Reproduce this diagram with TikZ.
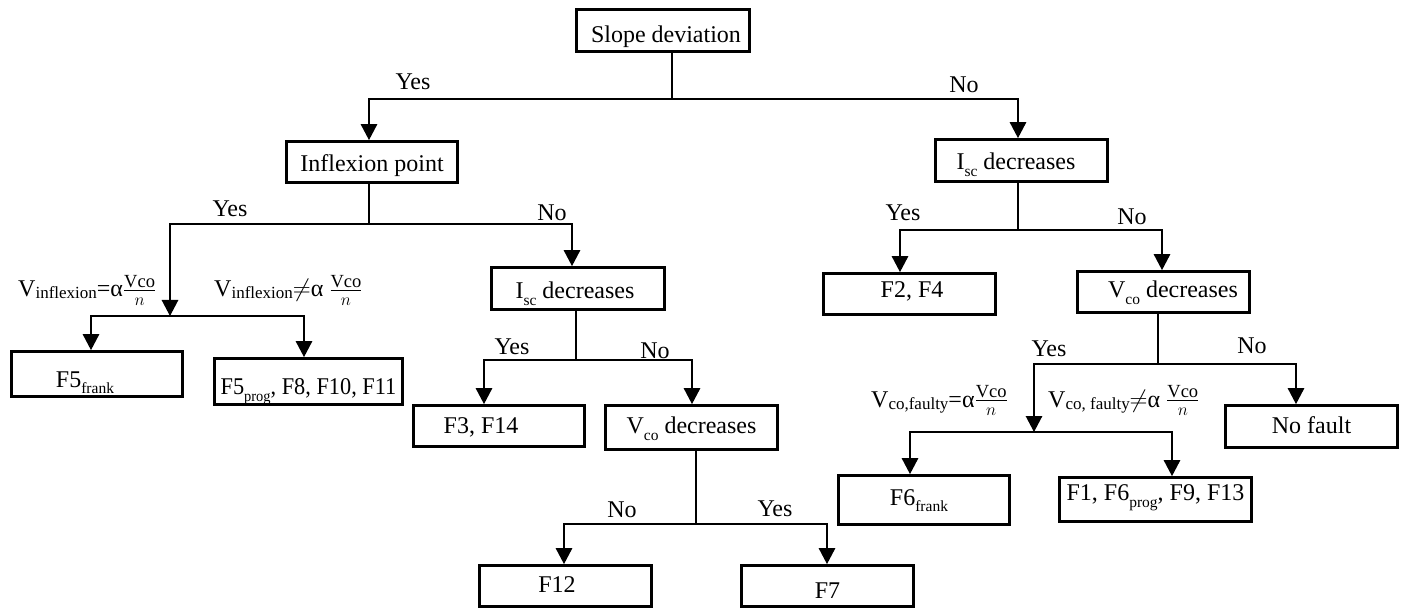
\documentclass[tikz,border=0pt]{standalone}
\usepackage{fontspec}
\setmainfont{Liberation Serif}
\usepackage{amsmath}
\usepackage{graphicx}
\usetikzlibrary{arrows.meta}
\newcommand{\lowsub}[2][7pt]{\raisebox{-#1}{\fontsize{15.5}{16}\selectfont #2}}
\newcommand{\fsub}[1]{\raisebox{-2pt}{\fontsize{17}{18}\selectfont #1}}
\newcommand{\vfrac}{$\genfrac{}{}{0.9pt}{}{\hbox{\fontsize{18.5}{20}\selectfont Vco}}{\hbox{\fontsize{18.5}{20}\selectfont $n$}}$}
\begin{document}
\begin{tikzpicture}[x=1pt,y=-1pt,font=\fontsize{24}{28}\selectfont,
  decbox/.style={draw,line width=2.8pt,inner sep=0pt,text depth=0pt},
  conn/.style={line width=1.3pt,line cap=rect},
  arr/.style={line width=1.3pt,-{Triangle[width=16.5pt,length=16pt]}},
  lab/.style={inner sep=0pt,text height=16pt,text depth=0pt},
  flab/.style={inner sep=0pt,anchor=base west}]
\useasboundingbox (0,0) rectangle (1406,612);
\fill[white] (0,0) rectangle (1406,612);

% boxes
\node[decbox,minimum width=173pt,minimum height=42pt,text height=25pt] (slope) at (663,30.5) {\hspace*{6pt}Slope deviation};
\node[decbox,minimum width=171pt,minimum height=41pt,text height=20pt] (inflex) at (372,162) {Inflexion point};
\node[decbox,minimum width=172pt,minimum height=42pt,text height=19pt] (isc1) at (1021.5,160.5) {I\lowsub{sc} decreases\hspace*{11pt}};
\node[decbox,minimum width=172pt,minimum height=41pt,text height=8pt] (f2f4) at (909.5,294) {\hspace*{5pt}F2, F4};
\node[decbox,minimum width=172pt,minimum height=41pt,text height=12pt] (vco1) at (1163.5,292) {\hspace*{19pt}V\lowsub{co} decreases};
\node[decbox,minimum width=173pt,minimum height=42pt,text height=21pt] (isc2) at (578,288.5) {I\lowsub{sc} decreases\hspace*{6pt}};
\node[decbox,minimum width=171pt,minimum height=45pt,text height=26pt] (f5frank) at (97,374) {F5\lowsub[6pt]{frank}\hspace*{24pt}};
\node[decbox,minimum width=188pt,minimum height=46pt,text height=25pt] (f5prog) at (308.5,381.5) {\scalebox{0.93}[1]{F5\lowsub{prog}, F8, F10, F11}};
\node[decbox,minimum width=171pt,minimum height=41pt,text height=14pt] (f3f14) at (499,426) {F3, F14\hspace*{36pt}};
\node[decbox,minimum width=172pt,minimum height=44pt,text height=12pt] (vco2) at (691.5,427.5) {V\lowsub{co} decreases};
\node[decbox,minimum width=172pt,minimum height=41pt,text height=12pt] (f12) at (565.5,586) {F12\hspace*{17pt}};
\node[decbox,minimum width=172pt,minimum height=41pt,text height=24pt] (f7) at (827.5,586) {F7};
\node[decbox,minimum width=172pt,minimum height=42pt,text height=13pt] (nofault) at (1311.5,426.5) {No fault};
\node[decbox,minimum width=171pt,minimum height=49pt,text height=10pt] (f6frank) at (924,500) {F6\lowsub[6pt]{frank}\hspace*{10pt}};
\node[decbox,minimum width=192pt,minimum height=44pt,text height=2pt] (f1) at (1155.5,499.5) {F1, F6\lowsub{prog}, F9, F13};

% junction points
\coordinate (j0) at (672,99);  \coordinate (j0l) at (369,99);  \coordinate (j0r) at (1018,99);
\coordinate (j1) at (369,224); \coordinate (j1l) at (170,224); \coordinate (j1r) at (572,224);
\coordinate (j2l) at (91,316); \coordinate (j2) at (170,316);  \coordinate (j2r) at (304,316);
\coordinate (j3) at (576,360); \coordinate (j3l) at (484,360); \coordinate (j3r) at (692,360);
\coordinate (j4) at (696,524); \coordinate (j4l) at (564,524); \coordinate (j4r) at (827,524);
\coordinate (j5) at (1018,230); \coordinate (j5l) at (900,230); \coordinate (j5r) at (1162,230);
\coordinate (j6) at (1158,364); \coordinate (j6l) at (1034,364); \coordinate (j6r) at (1296,364);
\coordinate (j7l) at (910,432); \coordinate (j7) at (1034,432); \coordinate (j7r) at (1172,432);

% connectors
\draw[conn] (slope.south -| j0) -- (j0);
\draw[conn] (j0l) -- (j0r);
\draw[arr] (j0l) -- (inflex.north -| j0l);
\draw[arr] (j0r) -- (isc1.north -| j0r);

\draw[conn] (inflex.south -| j1) -- (j1);
\draw[conn] (j1l) -- (j1r);
\draw[arr] (j1l) -- (j2);
\draw[arr] (j1r) -- (isc2.north -| j1r);
\draw[conn] (j2l) -- (j2r);
\draw[arr] (j2l) -- (f5frank.north -| j2l);
\draw[arr] (j2r) -- (f5prog.north -| j2r);

\draw[conn] (isc2.south -| j3) -- (j3);
\draw[conn] (j3l) -- (j3r);
\draw[arr] (j3l) -- (f3f14.north -| j3l);
\draw[arr] (j3r) -- (vco2.north -| j3r);

\draw[conn] (vco2.south -| j4) -- (j4);
\draw[conn] (j4l) -- (j4r);
\draw[arr] (j4l) -- (f12.north -| j4l);
\draw[arr] (j4r) -- (f7.north -| j4r);

\draw[conn] (isc1.south -| j5) -- (j5);
\draw[conn] (j5l) -- (j5r);
\draw[arr] (j5l) -- (f2f4.north -| j5l);
\draw[arr] (j5r) -- (vco1.north -| j5r);

\draw[conn] (vco1.south -| j6) -- (j6);
\draw[conn] (j6l) -- (j6r);
\draw[arr] (j6r) -- (nofault.north -| j6r);
\draw[arr] (j6l) -- (j7);
\draw[conn] (j7l) -- (j7r);
\draw[arr] (j7l) -- (f6frank.north -| j7l);
\draw[arr] (j7r) -- (f1.north -| j7r);

% branch labels
\node[lab] (yes1) at (413,82) {Yes};
\node[lab] (no1) at (964,85) {No};
\node[lab] (yes2) at (230,209) {Yes};
\node[lab] (no2) at (552,213) {No};
\node[lab] (yes3) at (512,347) {Yes};
\node[lab] (no3) at (655,350.5) {No};
\node[lab] (no4) at (622,509.5) {No};
\node[lab] (yes4) at (775,508) {Yes};
\node[lab] (yes5) at (903,212.5) {Yes};
\node[lab] (no5) at (1132,217) {No};
\node[lab] (yes6) at (1049,348) {Yes};
\node[lab] (no6) at (1252,346) {No};

% condition labels
\node[flab] (fa) at (18,297) {V\fsub{inflexion}=α\vfrac};
\node[flab] (fb) at (214,297) {V\fsub{inflexion}$\neq$α \vfrac};
\node[flab] (fc) at (871,407) {V\fsub{co,faulty}=α\vfrac};
\node[flab] (fd) at (1048,407) {V\fsub{co, faulty}$\neq$α \vfrac};
\end{tikzpicture}
\end{document}
